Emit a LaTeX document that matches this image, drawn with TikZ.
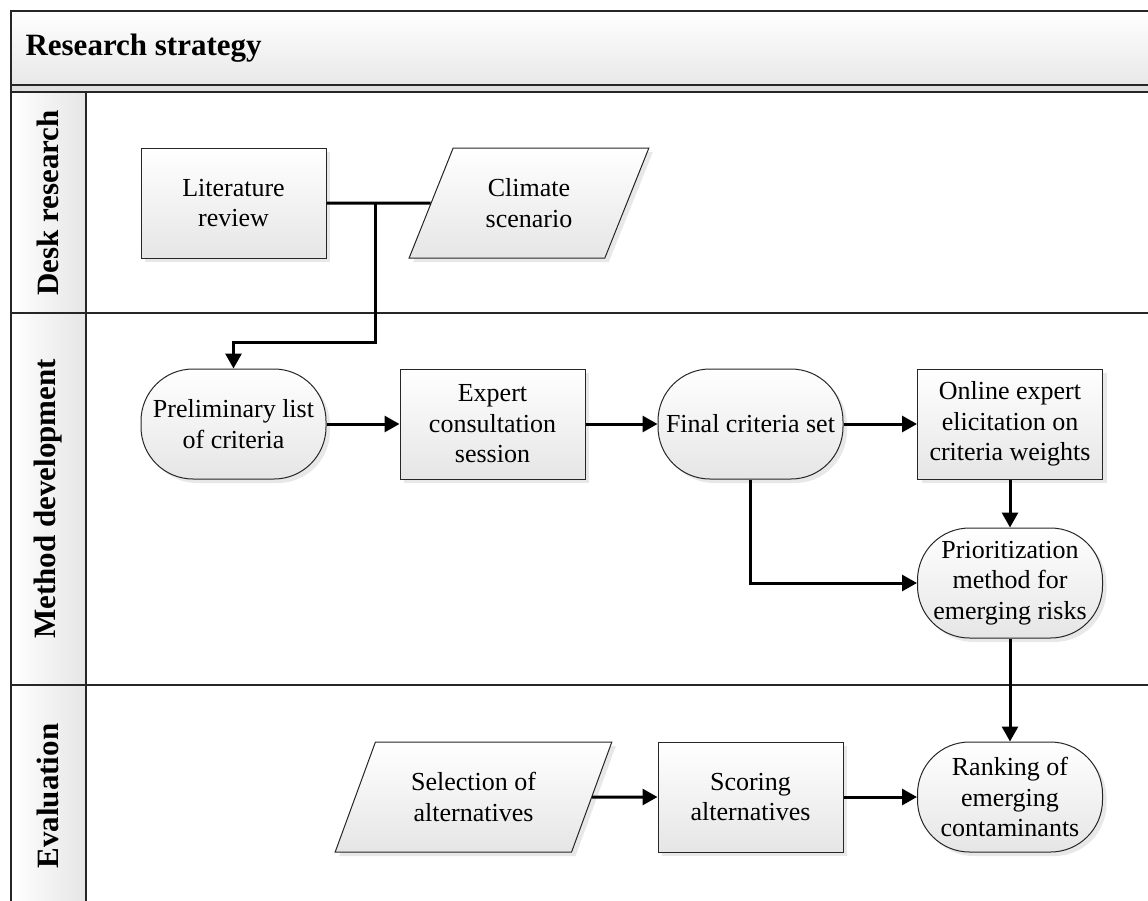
\documentclass[tikz,border=0pt]{standalone}
\usepackage{fontspec}
\setmainfont{Liberation Serif}
\usetikzlibrary{calc,shapes.geometric,shadows,arrows.meta}

\begin{document}
\begin{tikzpicture}[x=1pt, y=-1pt,
        every node/.style={font=\fontsize{26}{30.5}\selectfont},
        lanetitle/.style={font=\bfseries\fontsize{31}{36}\selectfont},
        basebox/.style={draw=black!85, line width=1pt, top color=white, bottom color=black!10,
            drop shadow={shadow xshift=4pt, shadow yshift=-4pt, fill=black!18},
            minimum height=110pt, align=center, inner sep=2pt},
        procbox/.style={basebox, rectangle, minimum width=185pt},
        termbox/.style={basebox, rectangle, rounded corners=52pt, minimum width=185pt},
        databox/.style={basebox, trapezium, trapezium left angle=63.5, trapezium right angle=116.5,
            trapezium stretches=true},
        frameline/.style={line width=2pt, draw=black!85},
        link/.style={line width=3pt},
        flow/.style={link, -{Triangle[length=15pt, width=16pt]}}]
        \useasboundingbox (0,0) rectangle (1148,900);
        \clip (0,0) rectangle (1148,900);
        % pool and lanes
        \shade [top color=white, bottom color=black!9] (11,11) rectangle (1160,85);
        \fill [black!12] (11,85) rectangle (1160,92);
        \shade [left color=white, right color=black!10] (11,92) rectangle (86,910);
        \draw [frameline] (1160,11) -- (11,11) -- (11,910);
        \draw [frameline] (11,85) -- (1160,85);
        \draw [frameline] (11,92) -- (1160,92);
        \draw [frameline] (86,92) -- (86,910);
        \draw [frameline] (11,313) -- (1160,313);
        \draw [frameline] (11,685) -- (1160,685);
        \node [lanetitle, anchor=west] (title) at (22,48) {Research strategy};
        \node [lanetitle, rotate=90] (desk) at (48,203) {Desk research};
        \node [lanetitle, rotate=90] (method) at (48,499) {Method development};
        \node [lanetitle, rotate=90] (eval) at (48,796) {Evaluation};
        % steps
        \coordinate (l1) at (233.5,203);
        \coordinate (c1) at (529,203);
        \coordinate (p1) at (233.5,424);
        \coordinate (e1) at (492.5,424);
        \coordinate (f1) at (750.5,424);
        \coordinate (o1) at (1010,424);
        \coordinate (m1) at (1010,583);
        \coordinate (s1) at (473.5,797);
        \coordinate (g1) at (750.5,797);
        \coordinate (r1) at (1010,797);
        \draw (l1) node [procbox, name=lit] {Literature\\review};
        \draw (c1) node [databox, minimum width=240pt, name=clim] {Climate\\scenario};
        \draw (p1) node [termbox, name=prelim] {Preliminary list\\of criteria};
        \draw (e1) node [procbox, name=expert] {Expert\\consultation\\session};
        \draw (f1) node [termbox, name=final] {Final criteria set};
        \draw (o1) node [procbox, name=online] {Online expert\\elicitation on\\criteria weights};
        \draw (m1) node [termbox, name=prior] {Prioritization\\method for\\emerging risks};
        \draw (s1) node [databox, minimum width=277pt, name=select] {Selection of\\alternatives};
        \draw (g1) node [procbox, name=score] {Scoring\\alternatives};
        \draw (r1) node [termbox, name=rank] {Ranking of\\emerging\\contaminants};
        % connectors
        \coordinate (jct) at (375,203);
        \draw [link] (lit.east) -- (clim.west);
        \draw [flow] (jct) -- ++(0,139) -| (prelim.north);
        \draw [flow] (prelim.east) -- (expert.west);
        \draw [flow] (expert.east) -- (final.west);
        \draw [flow] (final.east) -- (online.west);
        \draw [flow] (online.south) -- (prior.north);
        \draw [flow] (final.south) |- (prior.west);
        \draw [flow] (prior.south) -- (rank.north);
        \draw [flow] (select.east) -- (score.west);
        \draw [flow] (score.east) -- (rank.west);
    \end{tikzpicture}
\end{document}
